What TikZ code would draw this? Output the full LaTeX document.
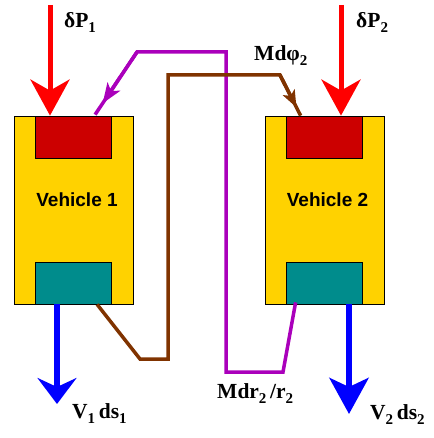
\documentclass[tikz,border=0pt]{standalone}
\usepackage{fontspec}
\setmainfont{Liberation Serif}
\setsansfont{Liberation Sans}
\usetikzlibrary{arrows.meta,calc}
\definecolor{bodyyellow}{RGB}{255,210,0}
\definecolor{topred}{RGB}{204,0,0}
\definecolor{baseteal}{RGB}{0,140,140}
\definecolor{linkpurple}{RGB}{170,0,187}
\definecolor{linkbrown}{RGB}{128,51,0}
\newcommand{\lsub}[1]{\raisebox{-5pt}{\fontsize{15}{15}\selectfont #1}}

\begin{document}
\begin{tikzpicture}[x=1pt,y=-1pt,
    body/.style={draw,line width=0.8pt,fill=bodyyellow,minimum width=119pt,minimum height=188pt,inner sep=0pt},
    block/.style={draw,line width=0.6pt,minimum width=76pt,minimum height=42pt,inner sep=0pt},
    vlabel/.style={font=\sffamily\bfseries\fontsize{19}{19}\selectfont},
    qlabel/.style={anchor=base west,inner sep=0pt,font=\bfseries\fontsize{21.5}{21.5}\selectfont},
    force/.style={red,line width=5pt,-{Stealth[length=36pt,width=39pt,inset=11pt]}},
    motion/.style={blue,line width=6pt,-{Stealth[length=#1,width=39pt,inset=9pt]}},
    link/.style={line width=3.5pt}]
    \useasboundingbox (0,0) rectangle (433,438);
    % the two vehicles
    \foreach \n/\x in {1/74,2/324.5}{
        \node[body] (V\n) at (\x,210) {};
        \node[vlabel] at ($(V\n.center)+(3,-10)$) {Vehicle \n};
        \node[block,fill=topred,anchor=north west] (r\n) at ($(V\n.north west)+(21,0)$) {};
        \node[block,fill=baseteal,anchor=south west] (t\n) at ($(V\n.south west)+(21,0)$) {};
    }
    % applied forces and displacements
    \coordinate (p1) at (50,5);
    \coordinate (p2) at (341,5);
    \draw[force] (p1) -- (p1 |- r1.north);
    \draw[force] (p2) -- (p2 |- r2.north);
    \coordinate (s1) at (57,404);
    \coordinate (s2) at (349,414);
    \draw[motion=26pt] (s1 |- t1.south) -- (s1);
    \draw[motion=36pt] (s2 |- t2.south) -- (s2);
    % couplings
    \coordinate (a1) at ($(t2.south west)+(10,-2)$);
    \coordinate (a2) at (283,372);
    \coordinate (a3) at (226,372);
    \coordinate (a4) at (226,52);
    \coordinate (a5) at (137,52);
    \coordinate (a6) at ($(r1.north west)+(60,-1)$);
    \draw[link,linkpurple] (a1) -- (a2) -- (a3) -- (a4) -- (a5) -- (a6);
    \draw[linkpurple,line width=3.5pt,-{Stealth[length=20pt,width=15pt,inset=5pt]}] (a5) -- ($(a5)!0.82!(a6)$);
    \coordinate (b1) at ($(t1.south west)+(62,0)$);
    \coordinate (b2) at (140,359);
    \coordinate (b3) at (168,359);
    \coordinate (b4) at (168,75);
    \coordinate (b5) at (280,75);
    \coordinate (b6) at ($(r2.north west)+(15,0)$);
    \draw[link,linkbrown] (b1) -- (b2) -- (b3) -- (b4) -- (b5) -- (b6);
    \draw[linkbrown,line width=3.5pt,-{Stealth[length=17pt,width=13pt,inset=4pt]}] (b5) -- ($(b5)!0.8!(b6)$);
    % labels
    \node[qlabel] (lp1) at (64,28) {δP\lsub{1}};
    \node[qlabel] (lp2) at (356,28) {δP\lsub{2}};
    \node[qlabel] (lphi) at (254,61) {Mdφ\lsub{2}};
    \node[qlabel] (lr) at (217,398) {Mdr\lsub{2}\,/r\lsub{2}};
    \node[qlabel] (ls1) at (72,418) {V\lsub{1}\,ds\lsub{1}};
    \node[qlabel] (ls2) at (370,419) {V\lsub{2}\,ds\lsub{2}};
\end{tikzpicture}
\end{document}
